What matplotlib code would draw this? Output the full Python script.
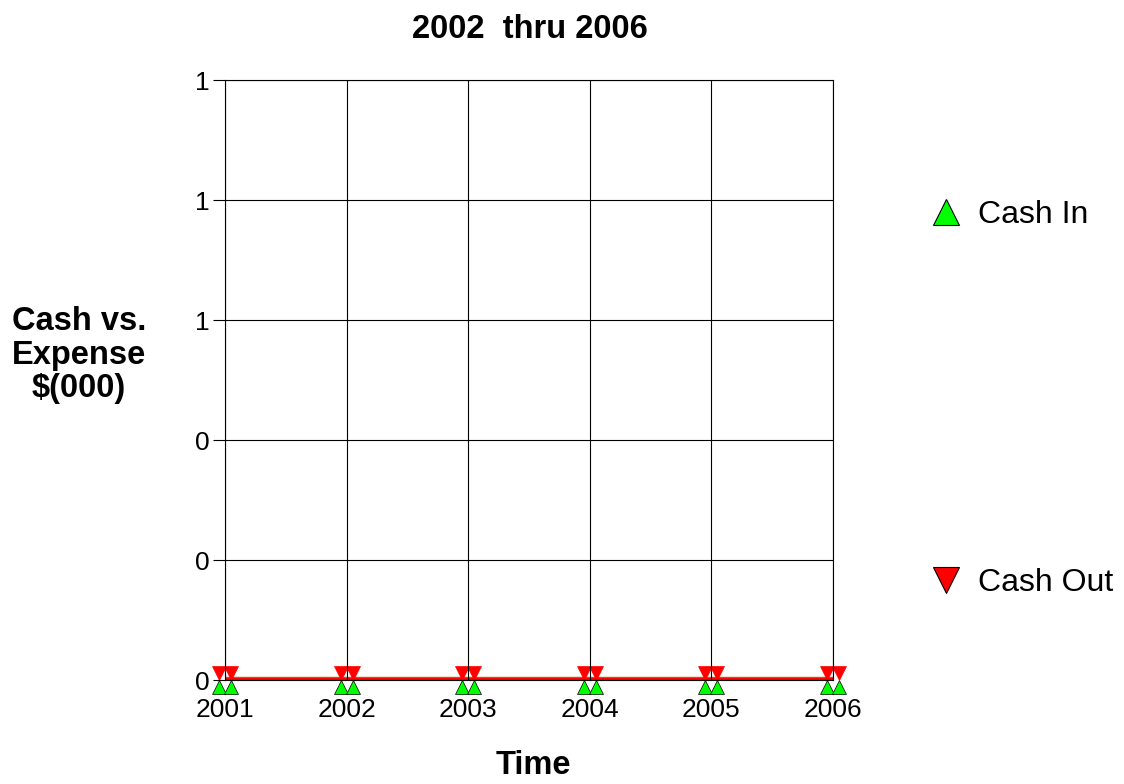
import matplotlib
matplotlib.use("Agg")
import matplotlib.pyplot as plt
from matplotlib.lines import Line2D
from matplotlib.transforms import offset_copy

plt.rcParams['font.family'] = ['Liberation Sans', 'DejaVu Sans']

years = [2001, 2002, 2003, 2004, 2005, 2006]
cash_in = [0, 0, 0, 0, 0, 0]
cash_out = [0, 0, 0, 0, 0, 0]
y_ticks = [0, 0.2, 0.4, 0.6, 0.8, 1.0]

fig = plt.figure(figsize=(11.24, 7.84), dpi=100)
ax = fig.add_axes([225 / 1124, 1 - 680 / 784, 608 / 1124, 600 / 784])

# lines: green under, red on top
ax.plot(years, cash_in, color='#00cc00', lw=4.8, zorder=1)
ax.plot(years, cash_out, color='#b86000', lw=4.6, zorder=1.1)
ax.plot(years, cash_out, color='red', lw=3.6, zorder=1.2)

# markers drawn in pairs, offset a few pixels left/right of each point
ms = 10
for dx in (-6, 6):
    tr_in = offset_copy(ax.transData, fig=fig, x=dx, y=-6.5, units='dots')
    ax.plot(years, cash_in, ls='none', marker='^', ms=ms, mfc='#00ff00',
            mec='black', mew=0.5, transform=tr_in, zorder=1.5, clip_on=False)
for dx in (-6, 6):
    tr_out = offset_copy(ax.transData, fig=fig, x=dx, y=7, units='dots')
    ax.plot(years, cash_out, ls='none', marker='v', ms=ms, mfc='red',
            mec='red', mew=0.5, transform=tr_out, zorder=1.6, clip_on=False)

ax.set_xlim(2001, 2006)
ax.set_ylim(0, 1)
ax.set_xticks(years)
ax.set_xticklabels([str(y) for y in years])
ax.set_yticks(y_ticks)
ax.set_yticklabels(['%.0f' % v for v in y_ticks])
ax.tick_params(axis='x', length=0, pad=13, labelsize=19)
ax.tick_params(axis='y', length=9, width=0.8, pad=2, labelsize=19, direction='out')

ax.set_axisbelow(False)
ax.grid(True, color='black', lw=0.8)
for s in ax.spines.values():
    s.set_linewidth(0.8)

fig.text(530 / 1124, 1 - 30 / 784, '2002  thru 2006', ha='center', va='center',
         fontsize=23.5, fontweight='bold')
fig.text(79 / 1124, 1 - 355 / 784, 'Cash vs.\nExpense\n$(000)', ha='center',
         va='center', fontsize=23.5, fontweight='bold', multialignment='center',
         linespacing=1.1)
fig.text(533 / 1124, 1 - 765 / 784, 'Time', ha='center', va='center',
         fontsize=23.5, fontweight='bold')

h_in = Line2D([], [], ls='none', marker='^', ms=19, mfc='#00ff00', mec='black', mew=0.8)
h_out = Line2D([], [], ls='none', marker='v', ms=19, mfc='red', mec='black', mew=0.8)
for h, lab, yy in [(h_in, 'Cash In', 215), (h_out, 'Cash Out', 583)]:
    fig.legend([h], [lab], loc='center left', bbox_to_anchor=(930 / 1124, 1 - yy / 784),
               frameon=False, fontsize=23, handlelength=1.0, handletextpad=0.5,
               borderpad=0, borderaxespad=0, numpoints=1)

fig.savefig('out.png', dpi=100)
